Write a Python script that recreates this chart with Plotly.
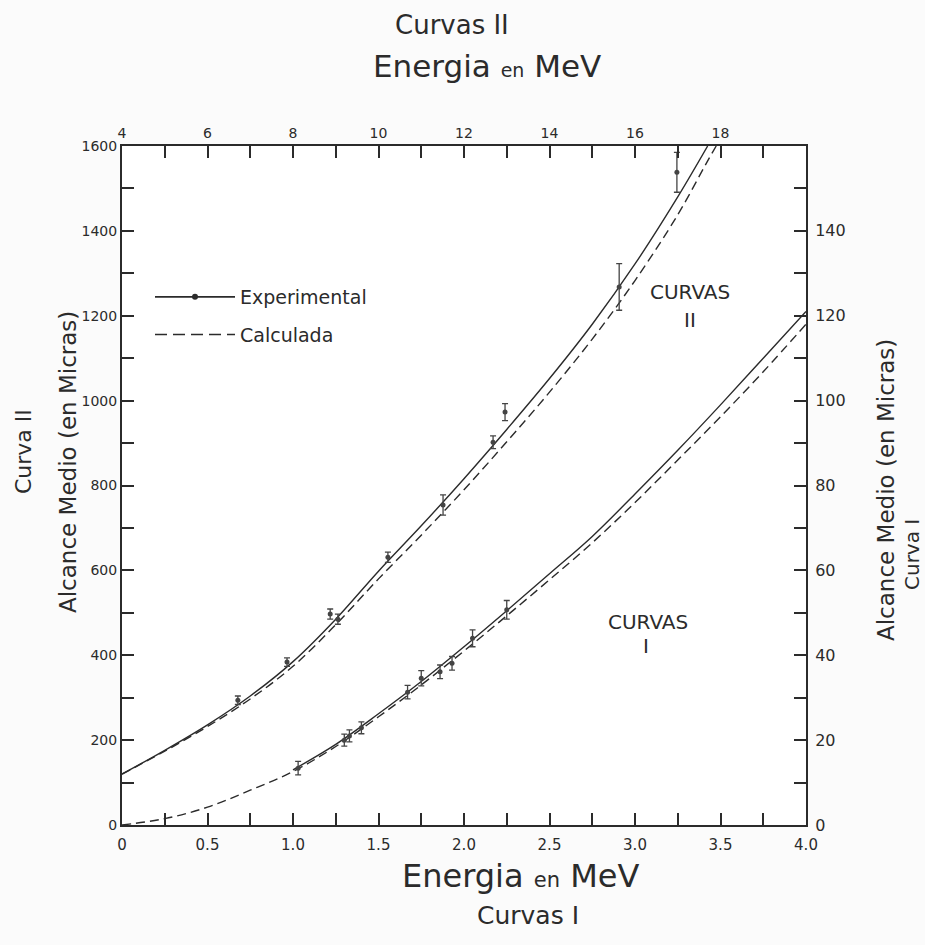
import plotly.graph_objects as go

# ---------------- data ----------------
# Curvas I : energy (bottom axis, MeV) vs mean range (right axis, micras)
e1_pts = [1.03, 1.30, 1.33, 1.40, 1.67, 1.75, 1.86, 1.93, 2.05, 2.25]
r1_pts = [13.4, 20.0, 21.0, 22.9, 31.3, 34.6, 36.1, 38.1, 44.0, 50.7]
r1_err = [1.6, 1.4, 1.4, 1.4, 1.6, 1.8, 1.6, 1.6, 2.0, 2.2]

e1_exp = [1.0, 1.25, 1.5, 1.75, 2.0, 2.25, 2.5, 2.75, 3.0, 3.25, 3.5, 3.75, 4.0]
r1_exp = [13.0, 19.0, 26.2, 33.8, 42.0, 50.5, 59.2, 68.0, 78.0, 88.3, 99.0, 110.0, 121.0]

e1_calc = [0, 0.25, 0.5, 0.75, 1.0, 1.25, 1.5, 1.75, 2.0, 2.25, 2.5, 2.75, 3.0, 3.25, 3.5, 3.75, 4.0]
r1_calc = [0, 1.5, 4.2, 8.2, 12.6, 18.5, 25.5, 33.0, 41.0, 49.3, 57.8, 66.5, 76.0, 86.0, 96.2, 106.8, 118.0]

# Curvas II : energy (top axis, MeV) vs mean range (left axis, micras)
e2_pts = [6.71, 7.86, 8.87, 9.05, 10.22, 11.51, 12.68, 12.96, 15.63, 16.98]
r2_pts = [294, 384, 497, 485, 631, 754, 902, 973, 1268, 1538]
r2_err = [10, 10, 12, 12, 12, 24, 15, 20, 55, 47]

e2_exp = [4, 5, 6, 7, 8, 9, 10, 11, 12, 13, 14, 15, 16, 17, 17.7]
r2_exp = [120, 176, 236, 304, 385, 485, 598, 705, 816, 932, 1052, 1180, 1322, 1480, 1600]

e2_calc = [4, 5, 6, 7, 8, 9, 10, 11, 12, 13, 14, 15, 16, 17, 17.7, 17.9]
r2_calc = [120, 174, 232, 297, 374, 472, 580, 683, 790, 903, 1020, 1145, 1283, 1438, 1565, 1600]

# tick positions and labels (blank label = unlabeled tick)
bottom_ticks = [0, 0.25, 0.5, 0.75, 1.0, 1.25, 1.5, 1.75, 2.0, 2.25, 2.5, 2.75, 3.0, 3.25, 3.5, 3.75, 4.0]
bottom_text = ["0", "", "0.5", "", "1.0", "", "1.5", "", "2.0", "", "2.5", "", "3.0", "", "3.5", "", "4.0"]
top_ticks = [4, 5, 6, 7, 8, 9, 10, 11, 12, 13, 14, 15, 16, 17, 18, 19, 20]
top_text = ["4", "", "6", "", "8", "", "10", "", "12", "", "14", "", "16", "", "18", "", ""]
left_ticks = [0, 100, 200, 300, 400, 500, 600, 700, 800, 900, 1000, 1100, 1200, 1300, 1400, 1500, 1600]
left_text = ["0", "", "200", "", "400", "", "600", "", "800", "", "1000", "", "1200", "", "1400", "", "1600"]
right_ticks = [0, 10, 20, 30, 40, 50, 60, 70, 80, 90, 100, 110, 120, 130, 140, 150, 160]
right_text = ["0", "", "20", "", "40", "", "60", "", "80", "", "100", "", "120", "", "140", "", ""]

# ---------------- styling ----------------
INK = "#2b2b2b"
FONT = "DejaVu Sans"
W, H = 925, 945
L, R, T, B = 122, 806, 146, 825


def px(xp, yp):
    return (xp - L) / (R - L), (B - yp) / (B - T)


fig = go.Figure()

solid = dict(color=INK, width=1.4)
dashed = dict(color=INK, width=1.4, dash="9px,5px")

# Curvas I
fig.add_trace(go.Scatter(x=e1_calc, y=r1_calc, mode="lines", line=dashed, line_shape="spline",
                         xaxis="x", yaxis="y2", showlegend=False, hoverinfo="skip"))
fig.add_trace(go.Scatter(x=e1_exp, y=r1_exp, mode="lines", line=solid, line_shape="spline",
                         xaxis="x", yaxis="y2", showlegend=False, hoverinfo="skip"))
fig.add_trace(go.Scatter(x=e1_pts, y=r1_pts, mode="markers",
                         marker=dict(color="#444", size=5),
                         error_y=dict(type="data", array=r1_err, color="#444", thickness=1.3, width=3),
                         xaxis="x", yaxis="y2", showlegend=False))

# Curvas II
fig.add_trace(go.Scatter(x=e2_calc, y=r2_calc, mode="lines", line=dashed, line_shape="spline",
                         xaxis="x2", yaxis="y", showlegend=False, hoverinfo="skip"))
fig.add_trace(go.Scatter(x=e2_exp, y=r2_exp, mode="lines", line=solid, line_shape="spline",
                         xaxis="x2", yaxis="y", showlegend=False, hoverinfo="skip"))
fig.add_trace(go.Scatter(x=e2_pts, y=r2_pts, mode="markers",
                         marker=dict(color="#444", size=5),
                         error_y=dict(type="data", array=r2_err, color="#444", thickness=1.3, width=3),
                         xaxis="x2", yaxis="y", showlegend=False))

# legend proxies
fig.add_trace(go.Scatter(x=[None], y=[None], mode="lines+markers", name="Experimental",
                         line=dict(color=INK, width=1.6), marker=dict(color=INK, size=6),
                         legendgroup="a", xaxis="x", yaxis="y"))
fig.add_trace(go.Scatter(x=[None], y=[None], mode="lines", name="Calculada",
                         line=dict(color=INK, width=1.6, dash="12px,6px"),
                         legendgroup="b", xaxis="x", yaxis="y"))

axis_common = dict(showgrid=False, zeroline=False, showline=True, linecolor=INK, linewidth=2,
                   tickmode="array", ticks="inside", ticklen=12, tickwidth=2, tickcolor=INK,
                   layer="above traces")

fig.update_layout(
    width=W, height=H,
    margin=dict(l=L, r=W - R, t=T, b=H - B),
    paper_bgcolor="#fbfbfb", plot_bgcolor="white",
    xaxis=dict(range=[0, 4], tickvals=bottom_ticks, ticktext=bottom_text,
               ticklabelstandoff=5, tickfont=dict(family=FONT, size=15, color=INK), **axis_common),
    xaxis2=dict(range=[4, 20], overlaying="x", side="top", anchor="y",
                tickvals=top_ticks, ticktext=top_text, tickfont=dict(family=FONT, size=14, color=INK),
                **axis_common),
    yaxis=dict(range=[0, 1600], tickvals=left_ticks, ticktext=left_text,
               tickfont=dict(family=FONT, size=14, color=INK), **axis_common),
    yaxis2=dict(range=[0, 160], overlaying="y", side="right", anchor="x",
                tickvals=right_ticks, ticktext=right_text, ticklabelstandoff=4,
                tickfont=dict(family=FONT, size=16, color=INK), **axis_common),
    legend=dict(x=px(150, 0)[0], y=px(0, 278)[1], xanchor="left", yanchor="top",
                bgcolor="rgba(0,0,0,0)", font=dict(family=FONT, size=19, color=INK),
                itemwidth=80, traceorder="grouped", tracegroupgap=10),
    showlegend=True,
)


def note(text, xp, yp, size, angle=0):
    x, y = px(xp, yp)
    fig.add_annotation(text=text, x=x, y=y, xref="paper", yref="paper", showarrow=False,
                       textangle=angle, font=dict(family=FONT, size=size, color=INK),
                       xanchor="center", yanchor="middle")


note("Curvas II", 452, 25, 26)
note("Energia <span style='font-size:19px'>en</span> MeV", 487, 66, 31)
note("Energia <span style='font-size:21px'>en</span> MeV", 520, 876, 32)
note("Curvas I", 528, 915, 25)
note("Alcance Medio (en Micras)", 68, 462, 23, -90)
note("Curva II", 24, 452, 22, -90)
note("Alcance Medio (en Micras)", 886, 490, 23, -90)
note("Curva I", 912, 555, 20, -90)
note("CURVAS", 690, 292, 20)
note("II", 690, 320, 20)
note("CURVAS", 648, 622, 20)
note("I", 646, 646, 20)

fig.write_html("out.html")
